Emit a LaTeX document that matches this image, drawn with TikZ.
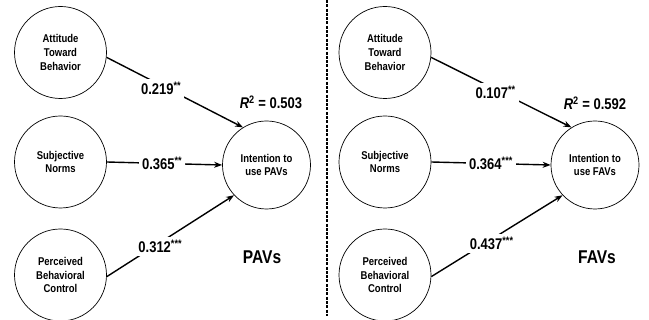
\documentclass[tikz,border=0pt]{standalone}
\usepackage{fontspec}
\setmainfont{Liberation Sans}[FakeStretch=0.84]
\usetikzlibrary{arrows.meta}
\begin{document}
\begin{tikzpicture}[x=1pt,y=-1pt,
  construct/.style={circle,draw,line width=0.7pt,minimum size=92pt,inner sep=0pt,align=center,
    font=\fontsize{11.3}{13.8}\selectfont\bfseries},
  target/.style={construct,minimum size=88pt},
  path/.style={line width=1.4pt,-{Stealth[length=8pt,width=6pt]}},
  coef/.style={fill=white,inner sep=3pt,font=\fontsize{15.5}{17}\selectfont\bfseries},
  rsq/.style={font=\fontsize{15.5}{17}\selectfont\bfseries},
  group/.style={font=\fontsize{18.5}{20}\selectfont\bfseries}]
\useasboundingbox (0,0) rectangle (649,320);
% divider
\draw[line width=1.3pt,dash pattern=on 3pt off 1.3pt] (327,0) -- (327,316);
% left panel
\node[construct] (att1) at (60.5,52.5) {Attitude\\Toward\\Behavior};
\node[construct] (sub1) at (60.5,162) {Subjective\\Norms};
\node[construct] (per1) at (60.5,275) {Perceived\\Behavioral\\Control};
\node[target] (int1) at (266.5,165) {Intention to\\use PAVs};
\draw[path] (att1.-6) -- node[coef,pos=0.4,yshift=-3pt] {0.219\textsuperscript{**}} (int1.122);
\draw[path] (sub1.east) -- node[coef,pos=0.48] {0.365\textsuperscript{**}} (int1.west);
\draw[path] (per1.-2) -- node[coef,pos=0.42,yshift=-4pt] {0.312\textsuperscript{***}} (int1.223);
\node[rsq] (r1) at (271,102) {\textit{R}\textsuperscript{2} = 0.503};
\node[group] (g1) at (262,257) {PAVs};
% right panel
\node[construct] (att2) at (385,52.5) {Attitude\\Toward\\Behavior};
\node[construct] (sub2) at (385,162) {Subjective\\Norms};
\node[construct] (per2) at (385,275) {Perceived\\Behavioral\\Control};
\node[target] (int2) at (595,165) {Intention to\\use FAVs};
\draw[path] (att2.-6) -- node[coef,pos=0.46,yshift=-3pt] {0.107\textsuperscript{**}} (int2.122);
\draw[path] (sub2.east) -- node[coef,pos=0.5] {0.364\textsuperscript{***}} (int2.west);
\draw[path] (per2.-2) -- node[coef,pos=0.46,yshift=-4pt] {0.437\textsuperscript{***}} (int2.223);
\node[rsq] (r2) at (595,103) {\textit{R}\textsuperscript{2} = 0.592};
\node[group] (g2) at (597,257) {FAVs};
\end{tikzpicture}
\end{document}
